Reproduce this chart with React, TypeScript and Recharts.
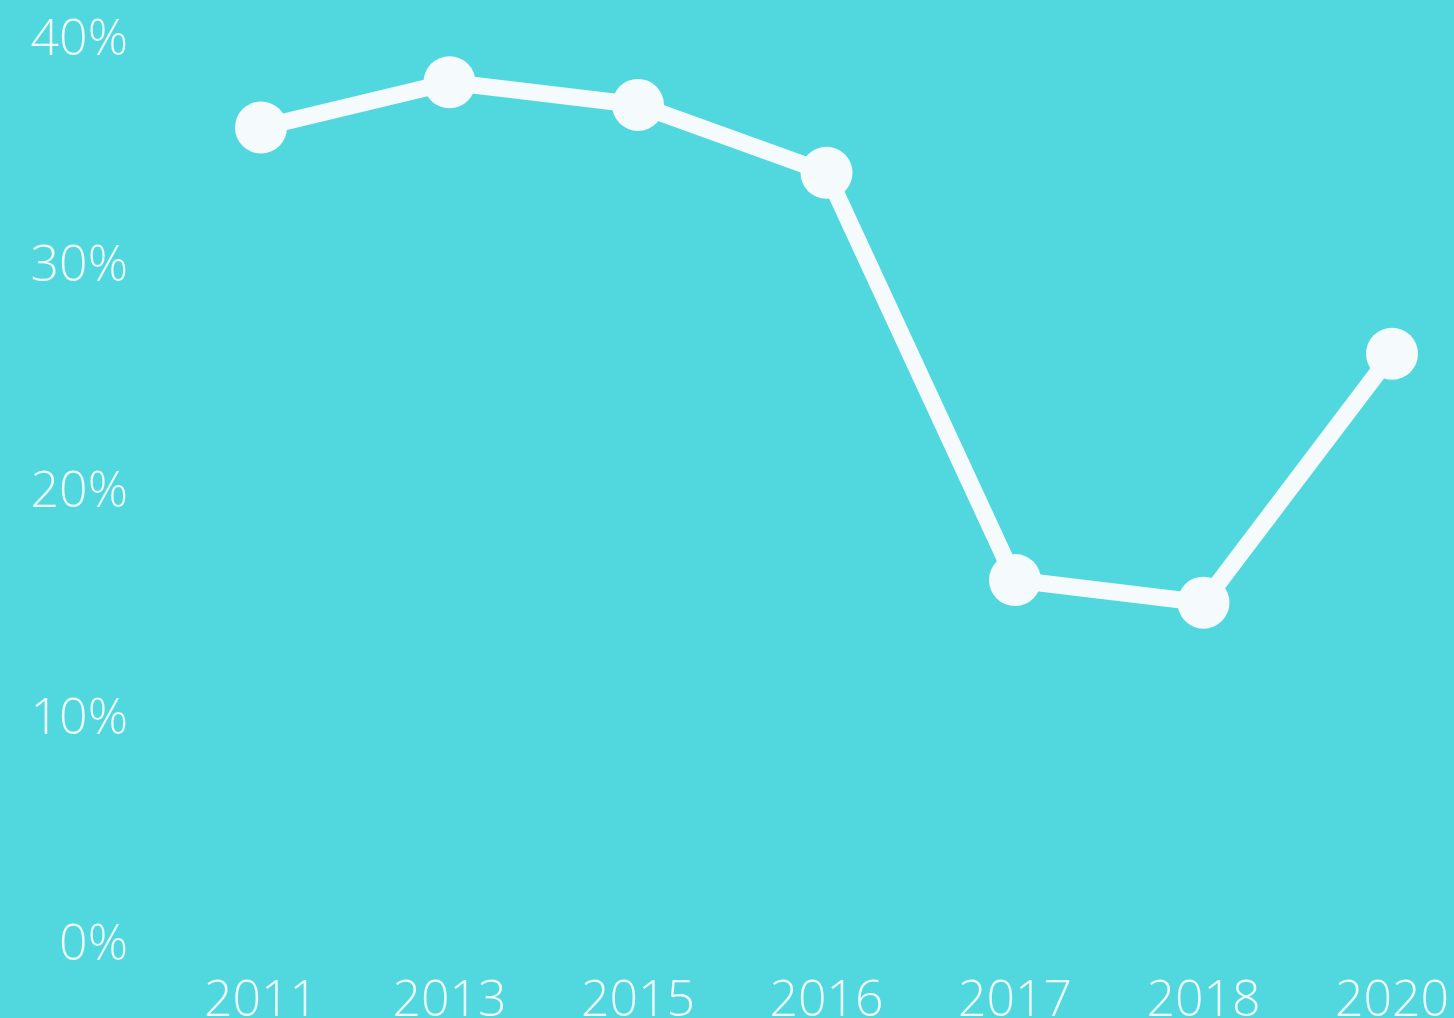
import React from "react";
import { LineChart, Line, XAxis, YAxis } from "recharts";

const years = ["2011", "2013", "2015", "2016", "2017", "2018", "2020"];
const shares = [36, 38, 37, 34, 16, 15, 26];
const yTicks = [0, 10, 20, 30, 40];

const data = years.map((year, i) => ({ year, share: shares[i] }));

const BG = "#50d8de";
const WHITE = "#f5fafd";
const TEXT = "#eefafb";

const tickStyle = {
  fill: TEXT,
  fontFamily: "'Open Sans', sans-serif",
  fontWeight: 300,
  fontSize: 50,
};

export default function App() {
  return (
    <div
      style={{
        position: "absolute",
        left: 0,
        top: 0,
        width: 1454,
        height: 1018,
        background: BG,
        overflow: "hidden",
      }}
    >
      <LineChart
        width={1454}
        height={1018}
        data={data}
        margin={{ top: 37, right: 62, left: 0, bottom: 0 }}
      >
        <XAxis
          dataKey="year"
          axisLine={false}
          tickLine={false}
          tickSize={0}
          tickMargin={38}
          height={76}
          interval={0}
          tick={tickStyle}
        />
        <YAxis
          domain={[0, 40]}
          ticks={yTicks}
          axisLine={false}
          tickLine={false}
          tickSize={0}
          tickMargin={133}
          width={261}
          interval={0}
          tick={tickStyle}
          tickFormatter={(v) => `${v}%`}
        />
        <Line
          type="linear"
          dataKey="share"
          stroke={WHITE}
          strokeWidth={17}
          dot={{ r: 26, fill: WHITE, stroke: "none" }}
          activeDot={false}
          isAnimationActive={false}
        />
      </LineChart>
    </div>
  );
}
